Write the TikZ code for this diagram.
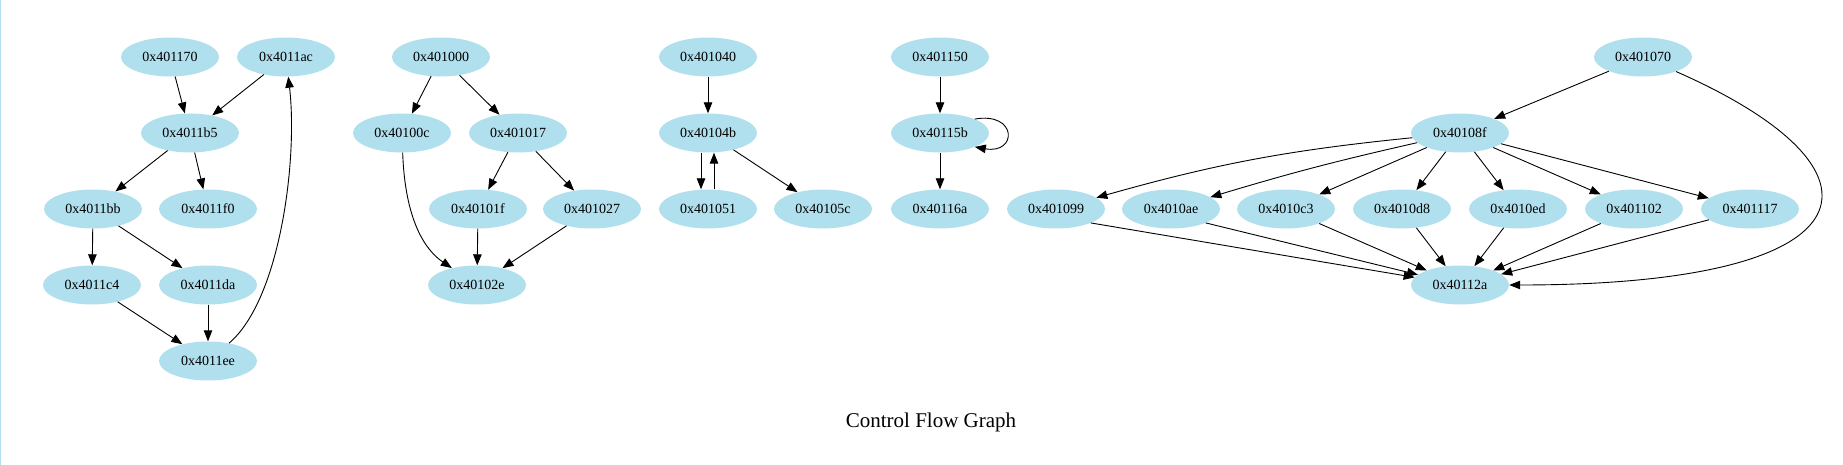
\documentclass[tikz,border=0pt]{standalone}
\usepackage{fontspec}
\setmainfont{Liberation Serif}
\usepackage{tikz}
\usetikzlibrary{arrows.meta,shapes.geometric}
\definecolor{blocklight}{RGB}{176, 223, 237}
\definecolor{edgedark}{RGB}{0, 0, 0}
\tikzstyle{block}=[ellipse, fill=blocklight, draw=none, minimum width=98pt, minimum height=39pt, inner sep=0pt, font=\fontsize{14}{16}\selectfont]
\tikzstyle{arrow}=[line width=0.9pt, -{Triangle[length=11pt,width=8.5pt]}, color=edgedark]

\begin{document}
\begin{tikzpicture}[x=1pt, y=1pt]
    \useasboundingbox (0,0) rectangle (1843,-465);
    \draw[blocklight, line width=1.2pt] (0.6,0) -- (0.6,-465);

    % First function
    \node[block] (b170) at (170,-57) {0x401170};
    \node[block] (b1ac) at (286,-57) {0x4011ac};
    \node[block] (b1b5) at (190,-133) {0x4011b5};
    \node[block] (b1bb) at (93,-209) {0x4011bb};
    \node[block] (b1f0) at (208,-209) {0x4011f0};
    \node[block] (b1c4) at (92,-285) {0x4011c4};
    \node[block] (b1da) at (208,-285) {0x4011da};
    \node[block] (b1ee) at (208,-361) {0x4011ee};
    \draw[arrow] (b170) -- (b1b5);
    \draw[arrow] (b1ac) -- (b1b5);
    \draw[arrow] (b1b5) -- (b1bb);
    \draw[arrow] (b1b5) -- (b1f0);
    \draw[arrow] (b1bb) -- (b1c4);
    \draw[arrow] (b1bb) -- (b1da);
    \draw[arrow] (b1c4) -- (b1ee);
    \draw[arrow] (b1da) -- (b1ee);
    \draw[arrow] (b1ee) .. controls (280,-300) and (298,-160) .. (b1ac);

    % Second function
    \node[block] (b000) at (441,-57) {0x401000};
    \node[block] (b00c) at (402,-133) {0x40100c};
    \node[block] (b017) at (518,-133) {0x401017};
    \node[block] (b01f) at (478,-209) {0x40101f};
    \node[block] (b027) at (592,-209) {0x401027};
    \node[block] (b02e) at (477,-285) {0x40102e};
    \draw[arrow] (b000) -- (b00c);
    \draw[arrow] (b000) -- (b017);
    \draw[arrow] (b00c) .. controls (405,-220) and (425,-250) .. (b02e);
    \draw[arrow] (b017) -- (b01f);
    \draw[arrow] (b017) -- (b027);
    \draw[arrow] (b01f) -- (b02e);
    \draw[arrow] (b027) -- (b02e);

    % Loop blocks
    \node[block] (b040) at (708,-57) {0x401040};
    \node[block] (b04b) at (708,-133) {0x40104b};
    \node[block] (b051) at (708,-209) {0x401051};
    \node[block] (b05c) at (823,-209) {0x40105c};
    \draw[arrow] (b040) -- (b04b);
    \draw[arrow] ([xshift=-7pt]b04b.south) -- ([xshift=-7pt]b051.north);
    \draw[arrow] ([xshift=6pt]b051.north) -- ([xshift=6pt]b04b.south);
    \draw[arrow] (b04b) -- (b05c);

    \node[block] (b150) at (940,-57) {0x401150};
    \node[block] (b15b) at (940,-133) {0x40115b};
    \node[block] (b16a) at (940,-209) {0x40116a};
    \draw[arrow] (b150) -- (b15b);
    \draw[arrow] (b15b.north east) to[out=10, in=-10, looseness=4] (b15b.south east);
    \draw[arrow] (b15b) -- (b16a);

    % Switch
    \node[block] (b070) at (1643,-57) {0x401070};
    \node[block] (b08f) at (1460,-133) {0x40108f};
    \node[block] (b099) at (1056,-209) {0x401099};
    \node[block] (b0ae) at (1171,-209) {0x4010ae};
    \node[block] (b0c3) at (1286,-209) {0x4010c3};
    \node[block] (b0d8) at (1402,-209) {0x4010d8};
    \node[block] (b0ed) at (1518,-209) {0x4010ed};
    \node[block] (b102) at (1634,-209) {0x401102};
    \node[block] (b117) at (1750,-209) {0x401117};
    \node[block] (b12a) at (1460,-285) {0x40112a};
    \draw[arrow] (b070) -- (b08f);
    \draw[arrow] (b070) .. controls (1900,-170) and (1880,-285) .. (b12a);
    \draw[arrow] (b08f) to[bend right=5] (b099);
    \draw[arrow] (b08f) to[bend right=2] (b0ae);
    \foreach \c in {b0c3,b0d8,b0ed,b102,b117}
        \draw[arrow] (b08f) -- (\c);
    \draw[arrow] (b099.south east) -- (b12a);
    \draw[arrow] (b0ae.south east) -- (b12a);
    \foreach \c in {b0c3,b0d8,b0ed,b102,b117}
        \draw[arrow] (\c) -- (b12a);

    \node[font=\fontsize{21}{24}\selectfont] (title) at (931,-422) {Control Flow Graph};
\end{tikzpicture}
\end{document}
